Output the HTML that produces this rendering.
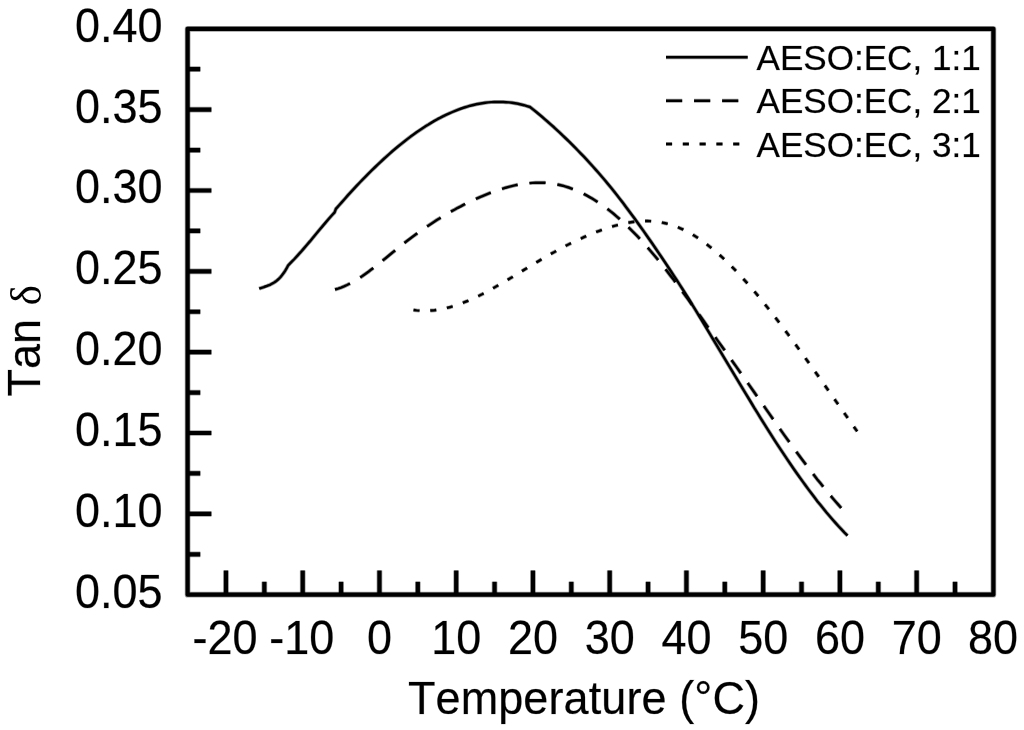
<!DOCTYPE html>
<html lang="en">
<head>
<meta charset="utf-8">
<title>Tan δ vs Temperature</title>
<style>
html,body{margin:0;padding:0;background:#fff;}
body{width:1024px;height:730px;overflow:hidden;}
svg{display:block;}
</style>
</head>
<body>
<svg width="1024" height="730" viewBox="0 0 1024 730">
<rect x="0" y="0" width="1024" height="730" fill="#ffffff"/>
<g fill="none" stroke="#000" stroke-width="5.70" stroke-opacity="0.38" stroke-linejoin="round">
<rect x="187.60" y="28.80" width="805.80" height="565.90"/>
<path d="M225.97 594.70 V570.40 M264.34 594.70 V581.70 M302.71 594.70 V570.40 M341.09 594.70 V581.70 M379.46 594.70 V570.40 M417.83 594.70 V581.70 M456.20 594.70 V570.40 M494.57 594.70 V581.70 M532.94 594.70 V570.40 M571.31 594.70 V581.70 M609.69 594.70 V570.40 M648.06 594.70 V581.70 M686.43 594.70 V570.40 M724.80 594.70 V581.70 M763.17 594.70 V570.40 M801.54 594.70 V581.70 M839.91 594.70 V570.40 M878.29 594.70 V581.70 M916.66 594.70 V570.40 M955.03 594.70 V581.70 M187.60 554.28 H200.30 M187.60 513.86 H211.40 M187.60 473.44 H200.30 M187.60 433.01 H211.40 M187.60 392.59 H200.30 M187.60 352.17 H211.40 M187.60 311.75 H200.30 M187.60 271.33 H211.40 M187.60 230.91 H200.30 M187.60 190.49 H211.40 M187.60 150.06 H200.30 M187.60 109.64 H211.40 M187.60 69.22 H200.30"/>
</g>
<g fill="none" stroke="#000" stroke-width="4.20" stroke-opacity="1.00" stroke-linejoin="round">
<rect x="187.60" y="28.80" width="805.80" height="565.90"/>
<path d="M225.97 594.70 V570.40 M264.34 594.70 V581.70 M302.71 594.70 V570.40 M341.09 594.70 V581.70 M379.46 594.70 V570.40 M417.83 594.70 V581.70 M456.20 594.70 V570.40 M494.57 594.70 V581.70 M532.94 594.70 V570.40 M571.31 594.70 V581.70 M609.69 594.70 V570.40 M648.06 594.70 V581.70 M686.43 594.70 V570.40 M724.80 594.70 V581.70 M763.17 594.70 V570.40 M801.54 594.70 V581.70 M839.91 594.70 V570.40 M878.29 594.70 V581.70 M916.66 594.70 V570.40 M955.03 594.70 V581.70 M187.60 554.28 H200.30 M187.60 513.86 H211.40 M187.60 473.44 H200.30 M187.60 433.01 H211.40 M187.60 392.59 H200.30 M187.60 352.17 H211.40 M187.60 311.75 H200.30 M187.60 271.33 H211.40 M187.60 230.91 H200.30 M187.60 190.49 H211.40 M187.60 150.06 H200.30 M187.60 109.64 H211.40 M187.60 69.22 H200.30"/>
</g>
<g fill="none" stroke="#000" stroke-width="3.95" stroke-opacity="0.38" stroke-linejoin="round">
<path d="M259.2 288.7 L260.7 288.1 L262.3 287.6 L263.8 287.1 L265.3 286.5 L266.8 286.0 L268.4 285.4 L269.9 284.8 L271.4 284.0 L272.9 283.2 L274.5 282.3 L276.0 281.2 L277.5 280.0 L279.0 278.6 L280.6 277.0 L282.1 275.1 L283.6 273.1 L285.1 270.8 L286.7 268.2 L288.2 265.3 L291.3 262.2 L294.4 259.0 L297.5 255.6 L300.6 252.2 L303.7 248.6 L306.8 245.0 L309.9 241.4 L312.9 237.7 L316.0 234.0 L319.1 230.3 L322.2 226.6 L325.3 222.9 L328.4 219.3 L331.5 215.8 L334.6 212.4 L335.9 208.9 L338.9 205.5 L341.9 202.1 L344.9 198.7 L347.8 195.4 L350.8 192.1 L353.8 188.9 L356.8 185.7 L359.8 182.5 L362.8 179.4 L365.8 176.3 L368.7 173.3 L371.7 170.4 L374.7 167.5 L377.7 164.6 L380.7 161.8 L383.7 159.0 L386.7 156.3 L389.7 153.6 L392.6 151.0 L395.6 148.5 L398.6 146.0 L401.6 143.6 L404.6 141.2 L407.6 138.9 L410.6 136.6 L413.5 134.5 L416.5 132.3 L419.5 130.3 L422.5 128.3 L425.5 126.3 L428.5 124.5 L431.5 122.6 L434.4 120.9 L437.4 119.2 L440.4 117.7 L443.4 116.1 L446.4 114.7 L449.4 113.3 L452.4 112.0 L455.3 110.8 L458.3 109.6 L461.3 108.5 L464.3 107.5 L467.3 106.6 L470.3 105.7 L473.3 105.0 L476.2 104.3 L479.2 103.7 L482.2 103.2 L485.2 102.8 L488.2 102.4 L491.2 102.1 L494.2 102.0 L497.2 101.9 L500.1 101.9 L503.1 102.0 L506.1 102.2 L509.1 102.4 L512.1 102.8 L515.1 103.3 L518.1 103.8 L521.0 104.5 L524.0 105.2 L527.0 106.1 L530.0 107.0 L533.0 109.4 L536.0 111.8 L539.0 114.3 L542.0 116.8 L545.0 119.4 L548.0 122.0 L551.0 124.7 L554.0 127.3 L557.0 130.1 L560.0 132.8 L562.9 135.7 L565.9 138.5 L568.9 141.4 L571.9 144.4 L574.9 147.4 L577.9 150.5 L580.9 153.6 L583.9 156.7 L586.9 159.9 L589.9 163.2 L592.9 166.5 L595.9 169.9 L598.9 173.3 L601.9 176.8 L604.9 180.3 L607.9 183.9 L610.9 187.6 L613.9 191.3 L616.9 195.1 L619.9 198.9 L622.9 202.8 L625.8 206.7 L628.8 210.7 L631.8 214.8 L634.8 218.8 L637.8 223.0 L640.8 227.2 L643.8 231.4 L646.8 235.7 L649.8 240.0 L652.8 244.3 L655.8 248.7 L658.8 253.1 L661.8 257.5 L664.8 262.0 L667.8 266.5 L670.8 271.0 L673.8 275.6 L676.8 280.2 L679.8 284.8 L682.8 289.5 L685.8 294.2 L688.8 299.0 L691.7 303.8 L694.7 308.7 L697.7 313.6 L700.7 318.6 L703.7 323.6 L706.7 328.6 L709.7 333.6 L712.7 338.7 L715.7 343.7 L718.7 348.7 L721.7 353.7 L724.7 358.7 L727.7 363.7 L730.7 368.7 L733.7 373.7 L736.7 378.7 L739.7 383.7 L742.7 388.6 L745.7 393.6 L748.7 398.5 L751.7 403.5 L754.6 408.4 L757.6 413.2 L760.6 418.1 L763.6 422.9 L766.6 427.7 L769.6 432.4 L772.6 437.1 L775.6 441.8 L778.6 446.4 L781.6 450.9 L784.6 455.4 L787.6 459.9 L790.6 464.3 L793.6 468.7 L796.6 473.0 L799.6 477.2 L802.6 481.4 L805.6 485.5 L808.6 489.6 L811.6 493.6 L814.6 497.5 L817.5 501.4 L820.5 505.1 L823.5 508.8 L826.5 512.5 L829.5 516.0 L832.5 519.5 L835.5 522.9 L838.5 526.2 L841.5 529.4 L844.5 532.6 L847.5 535.6"/>
<path d="M335.0 289.5 L338.0 288.6 L341.0 287.6 L344.0 286.4 L347.0 285.0 L350.0 283.5 L353.0 281.9 L356.0 280.1 L359.0 278.3 L362.0 276.3 L365.0 274.2 L368.0 272.1 L370.9 269.8 L373.9 267.6 L376.9 265.2 L379.9 262.8 L382.9 260.4 L385.9 258.0 L388.9 255.5 L391.9 253.0 L394.9 250.6 L397.9 248.1 L400.9 245.7 L403.9 243.3 L406.9 241.0 L409.9 238.7 L412.9 236.5 L415.9 234.3 L418.9 232.1 L421.9 230.0 L424.9 227.9 L427.9 225.9 L430.9 223.9 L433.9 221.9 L436.8 220.0 L439.8 218.2 L442.8 216.3 L445.8 214.6 L448.8 212.8 L451.8 211.1 L454.8 209.5 L457.8 207.8 L460.8 206.3 L463.8 204.7 L466.8 203.2 L469.8 201.8 L472.8 200.3 L475.8 199.0 L478.8 197.6 L481.8 196.3 L484.8 195.1 L487.8 193.9 L490.8 192.7 L493.8 191.6 L496.8 190.5 L499.8 189.5 L502.8 188.6 L505.7 187.7 L508.7 186.9 L511.7 186.1 L514.7 185.4 L517.7 184.8 L520.7 184.3 L523.7 183.8 L526.7 183.4 L529.7 183.1 L532.7 182.9 L535.7 182.7 L538.7 182.7 L541.7 182.7 L544.7 182.8 L547.7 183.1 L550.7 183.4 L553.7 183.8 L556.7 184.3 L559.7 185.0 L562.7 185.7 L565.7 186.6 L568.7 187.5 L571.6 188.6 L574.6 189.7 L577.6 191.0 L580.6 192.4 L583.6 193.8 L586.6 195.4 L589.6 197.1 L592.6 198.8 L595.6 200.7 L598.6 202.7 L601.6 204.7 L604.6 206.9 L607.6 209.1 L610.6 211.4 L613.6 213.8 L616.6 216.4 L619.6 219.0 L622.6 221.7 L625.6 224.4 L628.6 227.3 L631.6 230.3 L634.6 233.3 L637.6 236.4 L640.5 239.6 L643.5 242.9 L646.5 246.3 L649.5 249.7 L652.5 253.2 L655.5 256.8 L658.5 260.4 L661.5 264.1 L664.5 267.9 L667.5 271.8 L670.5 275.7 L673.5 279.6 L676.5 283.6 L679.5 287.6 L682.5 291.7 L685.5 295.8 L688.5 299.9 L691.5 304.1 L694.5 308.2 L697.5 312.4 L700.5 316.5 L703.5 320.7 L706.4 324.9 L709.4 329.1 L712.4 333.3 L715.4 337.4 L718.4 341.6 L721.4 345.8 L724.4 350.0 L727.4 354.3 L730.4 358.5 L733.4 362.7 L736.4 366.9 L739.4 371.2 L742.4 375.4 L745.4 379.7 L748.4 383.9 L751.4 388.2 L754.4 392.5 L757.4 396.8 L760.4 401.1 L763.4 405.3 L766.4 409.6 L769.4 413.9 L772.4 418.2 L775.3 422.4 L778.3 426.6 L781.3 430.9 L784.3 435.1 L787.3 439.3 L790.3 443.4 L793.3 447.6 L796.3 451.7 L799.3 455.7 L802.3 459.8 L805.3 463.8 L808.3 467.7 L811.3 471.7 L814.3 475.5 L817.3 479.4 L820.3 483.1 L823.3 486.9 L826.3 490.5 L829.3 494.2 L832.3 497.7 L835.3 501.2 L838.3 504.6 L841.2 508.0" stroke-dasharray="16.2 11.85" stroke-dashoffset="0"/>
<path d="M413.5 310.0 L416.5 310.4 L419.5 310.6 L422.5 310.8 L425.5 310.8 L428.5 310.7 L431.5 310.5 L434.5 310.2 L437.5 309.8 L440.5 309.3 L443.5 308.7 L446.5 308.0 L449.5 307.3 L452.5 306.4 L455.5 305.5 L458.5 304.4 L461.5 303.4 L464.5 302.2 L467.5 301.0 L470.5 299.7 L473.5 298.3 L476.5 296.9 L479.5 295.5 L482.5 294.0 L485.5 292.4 L488.4 290.8 L491.4 289.2 L494.4 287.5 L497.4 285.8 L500.4 284.1 L503.4 282.3 L506.4 280.6 L509.4 278.8 L512.4 277.0 L515.4 275.1 L518.4 273.3 L521.4 271.5 L524.4 269.6 L527.4 267.8 L530.4 266.0 L533.4 264.2 L536.4 262.4 L539.4 260.6 L542.4 258.8 L545.4 257.1 L548.4 255.3 L551.4 253.6 L554.4 252.0 L557.4 250.3 L560.4 248.7 L563.4 247.1 L566.4 245.5 L569.4 244.0 L572.4 242.5 L575.4 241.1 L578.4 239.6 L581.4 238.3 L584.4 236.9 L587.4 235.6 L590.4 234.3 L593.4 233.1 L596.4 231.9 L599.4 230.8 L602.4 229.7 L605.4 228.7 L608.4 227.7 L611.4 226.8 L614.4 225.9 L617.4 225.1 L620.4 224.4 L623.4 223.7 L626.4 223.1 L629.4 222.5 L632.4 222.0 L635.4 221.6 L638.3 221.3 L641.3 221.1 L644.3 221.0 L647.3 221.0 L650.3 221.1 L653.3 221.3 L656.3 221.6 L659.3 222.0 L662.3 222.6 L665.3 223.2 L668.3 224.0 L671.3 224.9 L674.3 225.9 L677.3 227.0 L680.3 228.3 L683.3 229.6 L686.3 231.1 L689.3 232.7 L692.3 234.5 L695.3 236.3 L698.3 238.2 L701.3 240.3 L704.3 242.4 L707.3 244.7 L710.3 247.1 L713.3 249.5 L716.3 252.1 L719.3 254.7 L722.3 257.4 L725.3 260.2 L728.3 263.1 L731.3 266.1 L734.3 269.2 L737.3 272.3 L740.3 275.5 L743.3 278.8 L746.3 282.1 L749.3 285.5 L752.3 289.0 L755.3 292.5 L758.3 296.1 L761.3 299.8 L764.3 303.5 L767.3 307.2 L770.3 311.0 L773.3 314.8 L776.3 318.7 L779.3 322.6 L782.3 326.6 L785.2 330.6 L788.2 334.6 L791.2 338.6 L794.2 342.7 L797.2 346.8 L800.2 350.9 L803.2 355.1 L806.2 359.2 L809.2 363.4 L812.2 367.6 L815.2 371.8 L818.2 376.0 L821.2 380.3 L824.2 384.5 L827.2 388.8 L830.2 393.0 L833.2 397.3 L836.2 401.6 L839.2 405.8 L842.2 410.1 L845.2 414.4 L848.2 418.6 L851.2 422.9 L854.2 427.2 L857.2 431.4" stroke-dasharray="6.1 10.7" stroke-dashoffset="0"/>
<path d="M666.0 57.3 H747.7"/>
<path d="M666.0 100.7 H747.7" stroke-dasharray="16.2 11.85"/>
<path d="M666.0 143.9 H747.7" stroke-dasharray="6.1 10.7"/>
</g>
<g fill="none" stroke="#000" stroke-width="2.45" stroke-opacity="1.00" stroke-linejoin="round">
<path d="M259.2 288.7 L260.7 288.1 L262.3 287.6 L263.8 287.1 L265.3 286.5 L266.8 286.0 L268.4 285.4 L269.9 284.8 L271.4 284.0 L272.9 283.2 L274.5 282.3 L276.0 281.2 L277.5 280.0 L279.0 278.6 L280.6 277.0 L282.1 275.1 L283.6 273.1 L285.1 270.8 L286.7 268.2 L288.2 265.3 L291.3 262.2 L294.4 259.0 L297.5 255.6 L300.6 252.2 L303.7 248.6 L306.8 245.0 L309.9 241.4 L312.9 237.7 L316.0 234.0 L319.1 230.3 L322.2 226.6 L325.3 222.9 L328.4 219.3 L331.5 215.8 L334.6 212.4 L335.9 208.9 L338.9 205.5 L341.9 202.1 L344.9 198.7 L347.8 195.4 L350.8 192.1 L353.8 188.9 L356.8 185.7 L359.8 182.5 L362.8 179.4 L365.8 176.3 L368.7 173.3 L371.7 170.4 L374.7 167.5 L377.7 164.6 L380.7 161.8 L383.7 159.0 L386.7 156.3 L389.7 153.6 L392.6 151.0 L395.6 148.5 L398.6 146.0 L401.6 143.6 L404.6 141.2 L407.6 138.9 L410.6 136.6 L413.5 134.5 L416.5 132.3 L419.5 130.3 L422.5 128.3 L425.5 126.3 L428.5 124.5 L431.5 122.6 L434.4 120.9 L437.4 119.2 L440.4 117.7 L443.4 116.1 L446.4 114.7 L449.4 113.3 L452.4 112.0 L455.3 110.8 L458.3 109.6 L461.3 108.5 L464.3 107.5 L467.3 106.6 L470.3 105.7 L473.3 105.0 L476.2 104.3 L479.2 103.7 L482.2 103.2 L485.2 102.8 L488.2 102.4 L491.2 102.1 L494.2 102.0 L497.2 101.9 L500.1 101.9 L503.1 102.0 L506.1 102.2 L509.1 102.4 L512.1 102.8 L515.1 103.3 L518.1 103.8 L521.0 104.5 L524.0 105.2 L527.0 106.1 L530.0 107.0 L533.0 109.4 L536.0 111.8 L539.0 114.3 L542.0 116.8 L545.0 119.4 L548.0 122.0 L551.0 124.7 L554.0 127.3 L557.0 130.1 L560.0 132.8 L562.9 135.7 L565.9 138.5 L568.9 141.4 L571.9 144.4 L574.9 147.4 L577.9 150.5 L580.9 153.6 L583.9 156.7 L586.9 159.9 L589.9 163.2 L592.9 166.5 L595.9 169.9 L598.9 173.3 L601.9 176.8 L604.9 180.3 L607.9 183.9 L610.9 187.6 L613.9 191.3 L616.9 195.1 L619.9 198.9 L622.9 202.8 L625.8 206.7 L628.8 210.7 L631.8 214.8 L634.8 218.8 L637.8 223.0 L640.8 227.2 L643.8 231.4 L646.8 235.7 L649.8 240.0 L652.8 244.3 L655.8 248.7 L658.8 253.1 L661.8 257.5 L664.8 262.0 L667.8 266.5 L670.8 271.0 L673.8 275.6 L676.8 280.2 L679.8 284.8 L682.8 289.5 L685.8 294.2 L688.8 299.0 L691.7 303.8 L694.7 308.7 L697.7 313.6 L700.7 318.6 L703.7 323.6 L706.7 328.6 L709.7 333.6 L712.7 338.7 L715.7 343.7 L718.7 348.7 L721.7 353.7 L724.7 358.7 L727.7 363.7 L730.7 368.7 L733.7 373.7 L736.7 378.7 L739.7 383.7 L742.7 388.6 L745.7 393.6 L748.7 398.5 L751.7 403.5 L754.6 408.4 L757.6 413.2 L760.6 418.1 L763.6 422.9 L766.6 427.7 L769.6 432.4 L772.6 437.1 L775.6 441.8 L778.6 446.4 L781.6 450.9 L784.6 455.4 L787.6 459.9 L790.6 464.3 L793.6 468.7 L796.6 473.0 L799.6 477.2 L802.6 481.4 L805.6 485.5 L808.6 489.6 L811.6 493.6 L814.6 497.5 L817.5 501.4 L820.5 505.1 L823.5 508.8 L826.5 512.5 L829.5 516.0 L832.5 519.5 L835.5 522.9 L838.5 526.2 L841.5 529.4 L844.5 532.6 L847.5 535.6"/>
<path d="M335.0 289.5 L338.0 288.6 L341.0 287.6 L344.0 286.4 L347.0 285.0 L350.0 283.5 L353.0 281.9 L356.0 280.1 L359.0 278.3 L362.0 276.3 L365.0 274.2 L368.0 272.1 L370.9 269.8 L373.9 267.6 L376.9 265.2 L379.9 262.8 L382.9 260.4 L385.9 258.0 L388.9 255.5 L391.9 253.0 L394.9 250.6 L397.9 248.1 L400.9 245.7 L403.9 243.3 L406.9 241.0 L409.9 238.7 L412.9 236.5 L415.9 234.3 L418.9 232.1 L421.9 230.0 L424.9 227.9 L427.9 225.9 L430.9 223.9 L433.9 221.9 L436.8 220.0 L439.8 218.2 L442.8 216.3 L445.8 214.6 L448.8 212.8 L451.8 211.1 L454.8 209.5 L457.8 207.8 L460.8 206.3 L463.8 204.7 L466.8 203.2 L469.8 201.8 L472.8 200.3 L475.8 199.0 L478.8 197.6 L481.8 196.3 L484.8 195.1 L487.8 193.9 L490.8 192.7 L493.8 191.6 L496.8 190.5 L499.8 189.5 L502.8 188.6 L505.7 187.7 L508.7 186.9 L511.7 186.1 L514.7 185.4 L517.7 184.8 L520.7 184.3 L523.7 183.8 L526.7 183.4 L529.7 183.1 L532.7 182.9 L535.7 182.7 L538.7 182.7 L541.7 182.7 L544.7 182.8 L547.7 183.1 L550.7 183.4 L553.7 183.8 L556.7 184.3 L559.7 185.0 L562.7 185.7 L565.7 186.6 L568.7 187.5 L571.6 188.6 L574.6 189.7 L577.6 191.0 L580.6 192.4 L583.6 193.8 L586.6 195.4 L589.6 197.1 L592.6 198.8 L595.6 200.7 L598.6 202.7 L601.6 204.7 L604.6 206.9 L607.6 209.1 L610.6 211.4 L613.6 213.8 L616.6 216.4 L619.6 219.0 L622.6 221.7 L625.6 224.4 L628.6 227.3 L631.6 230.3 L634.6 233.3 L637.6 236.4 L640.5 239.6 L643.5 242.9 L646.5 246.3 L649.5 249.7 L652.5 253.2 L655.5 256.8 L658.5 260.4 L661.5 264.1 L664.5 267.9 L667.5 271.8 L670.5 275.7 L673.5 279.6 L676.5 283.6 L679.5 287.6 L682.5 291.7 L685.5 295.8 L688.5 299.9 L691.5 304.1 L694.5 308.2 L697.5 312.4 L700.5 316.5 L703.5 320.7 L706.4 324.9 L709.4 329.1 L712.4 333.3 L715.4 337.4 L718.4 341.6 L721.4 345.8 L724.4 350.0 L727.4 354.3 L730.4 358.5 L733.4 362.7 L736.4 366.9 L739.4 371.2 L742.4 375.4 L745.4 379.7 L748.4 383.9 L751.4 388.2 L754.4 392.5 L757.4 396.8 L760.4 401.1 L763.4 405.3 L766.4 409.6 L769.4 413.9 L772.4 418.2 L775.3 422.4 L778.3 426.6 L781.3 430.9 L784.3 435.1 L787.3 439.3 L790.3 443.4 L793.3 447.6 L796.3 451.7 L799.3 455.7 L802.3 459.8 L805.3 463.8 L808.3 467.7 L811.3 471.7 L814.3 475.5 L817.3 479.4 L820.3 483.1 L823.3 486.9 L826.3 490.5 L829.3 494.2 L832.3 497.7 L835.3 501.2 L838.3 504.6 L841.2 508.0" stroke-dasharray="16.2 11.85" stroke-dashoffset="0"/>
<path d="M413.5 310.0 L416.5 310.4 L419.5 310.6 L422.5 310.8 L425.5 310.8 L428.5 310.7 L431.5 310.5 L434.5 310.2 L437.5 309.8 L440.5 309.3 L443.5 308.7 L446.5 308.0 L449.5 307.3 L452.5 306.4 L455.5 305.5 L458.5 304.4 L461.5 303.4 L464.5 302.2 L467.5 301.0 L470.5 299.7 L473.5 298.3 L476.5 296.9 L479.5 295.5 L482.5 294.0 L485.5 292.4 L488.4 290.8 L491.4 289.2 L494.4 287.5 L497.4 285.8 L500.4 284.1 L503.4 282.3 L506.4 280.6 L509.4 278.8 L512.4 277.0 L515.4 275.1 L518.4 273.3 L521.4 271.5 L524.4 269.6 L527.4 267.8 L530.4 266.0 L533.4 264.2 L536.4 262.4 L539.4 260.6 L542.4 258.8 L545.4 257.1 L548.4 255.3 L551.4 253.6 L554.4 252.0 L557.4 250.3 L560.4 248.7 L563.4 247.1 L566.4 245.5 L569.4 244.0 L572.4 242.5 L575.4 241.1 L578.4 239.6 L581.4 238.3 L584.4 236.9 L587.4 235.6 L590.4 234.3 L593.4 233.1 L596.4 231.9 L599.4 230.8 L602.4 229.7 L605.4 228.7 L608.4 227.7 L611.4 226.8 L614.4 225.9 L617.4 225.1 L620.4 224.4 L623.4 223.7 L626.4 223.1 L629.4 222.5 L632.4 222.0 L635.4 221.6 L638.3 221.3 L641.3 221.1 L644.3 221.0 L647.3 221.0 L650.3 221.1 L653.3 221.3 L656.3 221.6 L659.3 222.0 L662.3 222.6 L665.3 223.2 L668.3 224.0 L671.3 224.9 L674.3 225.9 L677.3 227.0 L680.3 228.3 L683.3 229.6 L686.3 231.1 L689.3 232.7 L692.3 234.5 L695.3 236.3 L698.3 238.2 L701.3 240.3 L704.3 242.4 L707.3 244.7 L710.3 247.1 L713.3 249.5 L716.3 252.1 L719.3 254.7 L722.3 257.4 L725.3 260.2 L728.3 263.1 L731.3 266.1 L734.3 269.2 L737.3 272.3 L740.3 275.5 L743.3 278.8 L746.3 282.1 L749.3 285.5 L752.3 289.0 L755.3 292.5 L758.3 296.1 L761.3 299.8 L764.3 303.5 L767.3 307.2 L770.3 311.0 L773.3 314.8 L776.3 318.7 L779.3 322.6 L782.3 326.6 L785.2 330.6 L788.2 334.6 L791.2 338.6 L794.2 342.7 L797.2 346.8 L800.2 350.9 L803.2 355.1 L806.2 359.2 L809.2 363.4 L812.2 367.6 L815.2 371.8 L818.2 376.0 L821.2 380.3 L824.2 384.5 L827.2 388.8 L830.2 393.0 L833.2 397.3 L836.2 401.6 L839.2 405.8 L842.2 410.1 L845.2 414.4 L848.2 418.6 L851.2 422.9 L854.2 427.2 L857.2 431.4" stroke-dasharray="6.1 10.7" stroke-dashoffset="0"/>
<path d="M666.0 57.3 H747.7"/>
<path d="M666.0 100.7 H747.7" stroke-dasharray="16.2 11.85"/>
<path d="M666.0 143.9 H747.7" stroke-dasharray="6.1 10.7"/>
</g>
<g font-family="'Liberation Sans', sans-serif" fill="#000" stroke="#000" stroke-width="0.6" stroke-opacity="0.35" style="font-kerning:none">
<text transform="translate(162.50 607.70) scale(1 1.075)" font-size="45" text-anchor="end">0.05</text>
<text transform="translate(162.50 526.86) scale(1 1.075)" font-size="45" text-anchor="end">0.10</text>
<text transform="translate(162.50 446.01) scale(1 1.075)" font-size="45" text-anchor="end">0.15</text>
<text transform="translate(162.50 365.17) scale(1 1.075)" font-size="45" text-anchor="end">0.20</text>
<text transform="translate(162.50 284.33) scale(1 1.075)" font-size="45" text-anchor="end">0.25</text>
<text transform="translate(162.50 203.49) scale(1 1.075)" font-size="45" text-anchor="end">0.30</text>
<text transform="translate(162.50 122.64) scale(1 1.075)" font-size="45" text-anchor="end">0.35</text>
<text transform="translate(162.50 41.80) scale(1 1.075)" font-size="45" text-anchor="end">0.40</text>
<text transform="translate(224.97 653.60) scale(1 1.075)" font-size="45" text-anchor="middle">-20</text>
<text transform="translate(301.71 653.60) scale(1 1.075)" font-size="45" text-anchor="middle">-10</text>
<text transform="translate(379.46 653.60) scale(1 1.075)" font-size="45" text-anchor="middle">0</text>
<text transform="translate(456.20 653.60) scale(1 1.075)" font-size="45" text-anchor="middle">10</text>
<text transform="translate(532.94 653.60) scale(1 1.075)" font-size="45" text-anchor="middle">20</text>
<text transform="translate(609.69 653.60) scale(1 1.075)" font-size="45" text-anchor="middle">30</text>
<text transform="translate(686.43 653.60) scale(1 1.075)" font-size="45" text-anchor="middle">40</text>
<text transform="translate(763.17 653.60) scale(1 1.075)" font-size="45" text-anchor="middle">50</text>
<text transform="translate(839.91 653.60) scale(1 1.075)" font-size="45" text-anchor="middle">60</text>
<text transform="translate(916.66 653.60) scale(1 1.075)" font-size="45" text-anchor="middle">70</text>
<text transform="translate(993.10 653.60) scale(1 1.075)" font-size="45" text-anchor="middle">80</text>
<text transform="translate(584.00 714.00) scale(1 1.045)" font-size="45" text-anchor="middle" letter-spacing="0.1">Temperature (°C)</text>
<text transform="translate(40.30 396.40) rotate(-90) scale(1 1.045)" font-size="45">Tan</text>
<text transform="translate(40.90 305.60) rotate(-90)" font-size="43.5" font-family="'Liberation Serif', 'DejaVu Serif', serif" stroke="none">δ</text>
<text transform="translate(756.50 70.00) scale(1 1.000)" font-size="35.1" text-anchor="start">AESO:EC, 1:1</text>
<text transform="translate(756.50 113.30) scale(1 1.000)" font-size="35.1" text-anchor="start">AESO:EC, 2:1</text>
<text transform="translate(756.50 156.60) scale(1 1.000)" font-size="35.1" text-anchor="start">AESO:EC, 3:1</text>
</g>
</svg>
</body>
</html>
